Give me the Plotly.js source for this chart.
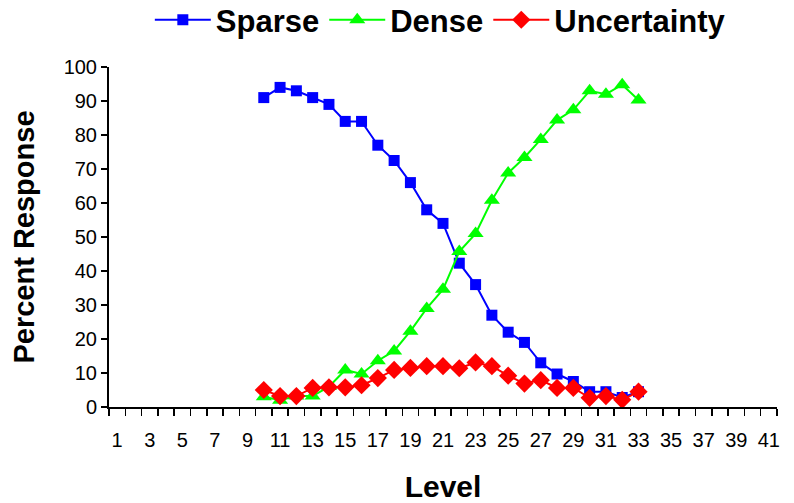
<!DOCTYPE html>
<html>
<head>
<meta charset="utf-8">
<script src="https://cdn.plot.ly/plotly-3.0.1.min.js"></script>
<style>html,body{margin:0;padding:0;background:#fff;}#chart{width:794px;height:503px;}</style>
</head>
<body>
<div id="chart"></div>
<script>
const levels = [10,11,12,13,14,15,16,17,18,19,20,21,22,23,24,25,26,27,28,29,30,31,32,33];
const sparse = [91,94,93,91,89,84,84,77,72.5,66,58,54,42.3,36,27,22,19,13,9.7,7.5,4.5,4.5,2.8,4.5];
const dense = [3,2,3.2,3.2,6,10.9,9.7,13.6,16.5,22.3,29,34.6,45.7,51,60.8,68.8,73.4,78.7,84.4,87.4,93,92,94.8,90.3];
const uncertainty = [5,3.2,3.2,5.6,5.8,5.8,6.4,8.5,10.9,11.5,12,12,11.4,13.1,12,9.2,6.9,7.9,5.6,5.6,2.7,3.2,2.1,4.5];
const xTickVals = [1,3,5,7,9,11,13,15,17,19,21,23,25,27,29,31,33,35,37,39,41];
const xTickText = xTickVals.map(String);
const yTickVals = [0,10,20,30,40,50,60,70,80,90,100];

const font = "Liberation Sans, Arial, sans-serif";
const traces = [
  {x: levels, y: sparse, name: 'Sparse', mode: 'lines+markers', type: 'scatter',
   line: {color: '#0000FF', width: 2}, marker: {symbol: 'square', size: 11, color: '#0000FF'}},
  {x: levels, y: dense, name: 'Dense', mode: 'lines+markers', type: 'scatter',
   line: {color: '#00FF00', width: 2}, marker: {symbol: 'triangle-up', size: 14, color: '#00FF00'}},
  {x: levels, y: uncertainty, name: 'Uncertainty', mode: 'lines+markers', type: 'scatter',
   line: {color: '#FF0000', width: 2}, marker: {symbol: 'diamond', size: 14, color: '#FF0000'}}
];

const layout = {
  width: 794, height: 503,
  margin: {l: 109, r: 17, t: 67, b: 96, autoexpand: false},
  paper_bgcolor: '#fff', plot_bgcolor: '#fff',
  font: {family: font, color: '#000', size: 20},
  showlegend: true,
  legend: {orientation: 'h', x: 0.496, xref: 'paper', xanchor: 'center', y: 1.138, yref: 'paper', yanchor: 'middle',
           font: {family: font, size: 31, color: '#000', weight: 'bold'}, itemwidth: 56,
           bgcolor: 'rgba(0,0,0,0)'},
  xaxis: {
    range: [0.5, 41.5], tickmode: 'array', tickvals: xTickVals, ticktext: xTickText,
    ticks: '', showgrid: false, zeroline: false,
    showline: true, linecolor: '#000', linewidth: 2,
    tickfont: {size: 20, family: font}, ticklabelstandoff: 14,
    minor: {tick0: 0.5, dtick: 1, ticks: 'outside', ticklen: 7, tickwidth: 1.5, tickcolor: '#000', showgrid: false},
    title: {text: 'Level', font: {size: 30, family: font, weight: 'bold'}, standoff: 28}
  },
  yaxis: {
    range: [0, 100], tickmode: 'array', tickvals: yTickVals,
    ticks: 'outside', ticklen: 6, tickwidth: 1.5, tickcolor: '#000',
    showgrid: false, zeroline: false, showline: true, linecolor: '#000', linewidth: 2,
    tickfont: {size: 20, family: font},
    title: {text: 'Percent Response', font: {size: 29, family: font, weight: 'bold'}, standoff: 20}
  }
};
Plotly.newPlot('chart', traces, layout, {displayModeBar: false, staticPlot: true});
</script>
</body>
</html>
